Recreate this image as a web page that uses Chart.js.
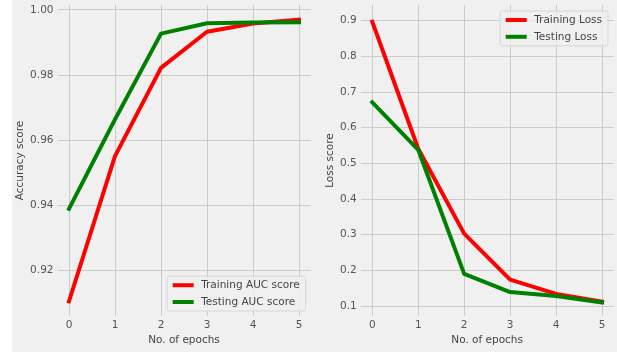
<!DOCTYPE html>
<html>
<head>
<meta charset="utf-8">
<script src="https://cdn.jsdelivr.net/npm/chart.js@4/dist/chart.umd.min.js"></script>
<style>
  html, body { margin: 0; padding: 0; }
  body { width: 617px; height: 352px; background: #f0f0f0; position: relative; overflow: hidden; }
  #strip { position: absolute; left: 0; top: 0; width: 12px; height: 352px; background: #ffffff; }
  .panel { position: absolute; top: 0; height: 352px; }
  #accWrap { left: 0; width: 312px; }
  #lossWrap { left: 312px; width: 305px; }
</style>
</head>
<body>
<div id="strip"></div>
<div class="panel" id="accWrap"><canvas id="acc" width="312" height="352"></canvas></div>
<div class="panel" id="lossWrap"><canvas id="loss" width="305" height="352"></canvas></div>
<script>
// Per-epoch metrics
const epochs = [0, 1, 2, 3, 4, 5];
const trainAuc = [0.9105, 0.9551, 0.9822, 0.9933, 0.9958, 0.9970];
const testAuc = [0.9389, 0.9664, 0.9927, 0.9959, 0.9961, 0.9962];
const trainLoss = [0.897, 0.541, 0.303, 0.174, 0.134, 0.112];
const testLoss = [0.671, 0.538, 0.190, 0.139, 0.128, 0.110];

const accLabels = ['Training AUC score', 'Testing AUC score'];
const lossLabels = ['Training Loss', 'Testing Loss'];

const FONT = 'DejaVu Sans';
const TICK_COLOR = '#555555';
const GRID_COLOR = '#cbcbcb';

function pts(ys) { return epochs.map((x, i) => ({ x: x, y: ys[i] })); }

function series(label, ys, color, order) {
  return {
    label: label, data: pts(ys), borderColor: color, backgroundColor: color,
    borderWidth: 4, pointRadius: 0, tension: 0, fill: false, order: order,
    borderCapStyle: 'square', borderJoinStyle: 'round'
  };
}

// Legend box drawn inside the plot area, anchored to a corner
const boxLegend = {
  id: 'boxLegend',
  afterDatasetsDraw(chart, args, opts) {
    const ctx = chart.ctx, ca = chart.chartArea;
    const ds = chart.data.datasets;
    ctx.save();
    ctx.font = '10.5px "' + FONT + '"';
    let tw = 0;
    ds.forEach(d => { tw = Math.max(tw, ctx.measureText(d.label).width); });
    const padL = 5.5, lineLen = 21, gap = 7.5, padR = 6, rowH = 16.8, padT = 9;
    const w = padL + lineLen + gap + tw + padR;
    const h = padT * 2 + rowH * (ds.length - 1);
    const x0 = ca.right - opts.dx - w;
    const y0 = opts.corner === 'bottom' ? ca.bottom - opts.dy - h : ca.top + opts.dy;
    // frame
    const r = 2.5;
    ctx.beginPath();
    ctx.moveTo(x0 + r, y0);
    ctx.arcTo(x0 + w, y0, x0 + w, y0 + h, r);
    ctx.arcTo(x0 + w, y0 + h, x0, y0 + h, r);
    ctx.arcTo(x0, y0 + h, x0, y0, r);
    ctx.arcTo(x0, y0, x0 + w, y0, r);
    ctx.closePath();
    ctx.fillStyle = 'rgba(240,240,240,0.8)';
    ctx.fill();
    ctx.strokeStyle = '#d6d6d6';
    ctx.lineWidth = 1;
    ctx.stroke();
    ds.forEach((d, i) => {
      const cy = y0 + padT + i * rowH;
      ctx.beginPath();
      ctx.moveTo(x0 + padL, cy);
      ctx.lineTo(x0 + padL + lineLen, cy);
      ctx.strokeStyle = d.borderColor;
      ctx.lineWidth = 4;
      ctx.lineCap = 'butt';
      ctx.stroke();
      ctx.fillStyle = '#444444';
      ctx.textBaseline = 'middle';
      ctx.textAlign = 'left';
      ctx.fillText(d.label, x0 + padL + lineLen + gap, cy + 0.5);
    });
    ctx.restore();
  }
};

function makeChart(canvasId, datasets, yMin, yMax, yStep, yDigits, yTitle, yWidth, yTitlePad, padRight, legendOpts) {
  return new Chart(document.getElementById(canvasId), {
    type: 'line',
    data: { datasets: datasets },
    plugins: [boxLegend],
    options: {
      responsive: false,
      animation: false,
      events: [],
      layout: { padding: { top: 5, right: padRight, bottom: 0, left: 0 } },
      plugins: { legend: { display: false }, tooltip: { enabled: false }, boxLegend: legendOpts },
      scales: {
        x: {
          type: 'linear', min: -0.25, max: 5.25,
          afterFit(s) { s.height = 36; s.paddingLeft = 0; s.paddingRight = 0; },
          border: { display: false },
          grid: { color: GRID_COLOR, lineWidth: 1, drawTicks: false },
          ticks: {
            stepSize: 1, includeBounds: false, padding: 3, color: TICK_COLOR,
            font: { family: FONT, size: 10.5 }, maxRotation: 0,
            callback: v => String(v)
          },
          title: {
            display: true, text: 'No. of epochs', color: '#444444',
            font: { family: FONT, size: 10.5 }, padding: { top: 0, bottom: 5.7 }
          }
        },
        y: {
          type: 'linear', min: yMin, max: yMax,
          afterFit(s) { s.width = yWidth; s.paddingTop = 0; s.paddingBottom = 0; },
          border: { display: false },
          grid: { color: GRID_COLOR, lineWidth: 1, drawTicks: false },
          ticks: {
            stepSize: yStep, includeBounds: false, padding: 4, color: TICK_COLOR,
            font: { family: FONT, size: 10.5 },
            callback: v => Number(v).toFixed(yDigits)
          },
          title: {
            display: true, text: yTitle, color: '#444444',
            font: { family: FONT, size: 10.5 }, padding: { top: yTitlePad, bottom: 0 }
          }
        }
      }
    }
  });
}

makeChart('acc',
  [series(accLabels[0], trainAuc, '#ff0000', 1), series(accLabels[1], testAuc, '#008000', 0)],
  0.906, 1.0015, 0.02, 2, 'Accuracy score', 57.5, 13.7, 1.5,
  { corner: 'bottom', dx: 4.8, dy: 5 });

makeChart('loss',
  [series(lossLabels[0], trainLoss, '#ff0000', 1), series(lossLabels[1], testLoss, '#008000', 0)],
  0.072, 0.944, 0.1, 1, 'Loss score', 48.8, 11.7, 3.5,
  { corner: 'top', dx: 5.5, dy: 6 });
</script>
</body>
</html>
